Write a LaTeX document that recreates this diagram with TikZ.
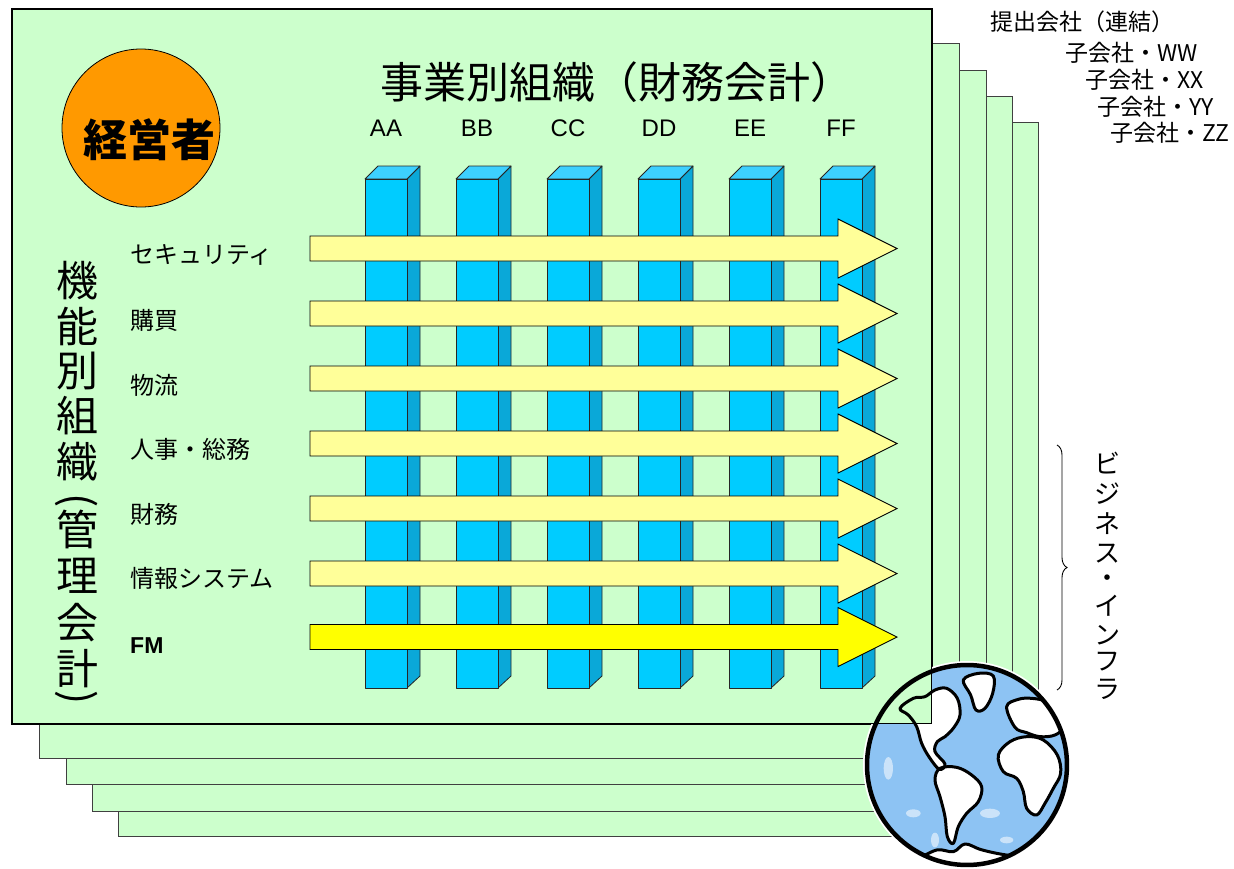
\documentclass[tikz,border=0pt]{standalone}
\usepackage{graphicx}
\usepackage{fontspec}
\setmainfont{Noto Sans CJK JP}
\newfontfamily\latinfont{Liberation Sans}
\usetikzlibrary{decorations.pathreplacing}

\definecolor{sheetgreen}{HTML}{CCFFCC}
\definecolor{colfront}{HTML}{00CCFF}
\definecolor{colside}{HTML}{0AA8D8}
\definecolor{coltop}{HTML}{3DD0FF}
\definecolor{paleyellow}{HTML}{FFFF99}
\definecolor{fmyellow}{HTML}{FFFF00}
\definecolor{headorange}{HTML}{FF9900}
\definecolor{oceanblue}{HTML}{8DC3F3}

\tikzset{
  sheet/.style={fill=sheetgreen,draw=black!75,line width=1pt},
  frontsheet/.style={fill=sheetgreen,draw=black,line width=1.2pt},
  facebox/.style={draw=black!85,line width=0.8pt,line join=round},
  flowarrow/.style={draw=black,line width=0.9pt,line join=miter},
  rowlabel/.style={anchor=west,inner sep=0pt,font=\fontsize{24}{28}\selectfont},
  collabel/.style={inner sep=0pt,font=\latinfont\fontsize{24}{28}\selectfont},
  sublabel/.style={anchor=west,inner sep=0pt,font=\fontsize{23}{26}\selectfont},
  vchar/.style={inner sep=0pt,font=\fontsize{42}{44}\selectfont},
  rchar/.style={inner sep=0pt,font=\fontsize{26}{28}\selectfont},
  coast/.style={line width=3pt,line join=round},
  % continents of the globe, in a local 3x grid
  northamerica/.pic={\path[pic actions] plot[smooth cycle,tension=0.6] coordinates
    {(150,205) (190,175) (225,170) (255,150) (290,145) (322,175) (330,225) (312,262)
     (285,290) (262,305) (255,335) (285,372) (268,388) (238,352) (215,310) (200,260) (175,225)};},
  greenlandpic/.pic={\path[pic actions] plot[smooth cycle,tension=0.6] coordinates
    {(340,120) (385,100) (430,108) (428,160) (405,205) (378,210) (362,165)};},
  eurasiapic/.pic={\path[pic actions] plot[smooth cycle,tension=0.6] coordinates
    {(470,200) (505,178) (545,175) (590,185) (625,215) (640,260) (615,285) (570,290) (530,278) (495,262)};},
  africapic/.pic={\path[pic actions] plot[smooth cycle,tension=0.6] coordinates
    {(445,345) (480,305) (530,290) (580,300) (622,345) (632,400) (610,445) (585,490)
     (560,525) (530,505) (520,455) (500,415) (460,395)};},
  southamericapic/.pic={\path[pic actions] plot[smooth cycle,tension=0.6] coordinates
    {(270,385) (320,382) (365,405) (395,440) (385,485) (350,520) (325,560) (310,610)
     (292,590) (285,530) (270,470) (255,420)};},
  antarcticapic/.pic={\path[pic actions] plot[smooth,tension=0.6] coordinates
    {(200,660) (260,630) (310,635) (345,612) (390,628) (440,640) (500,650)}
     -- (500,720) -- (200,720) -- cycle;},
}

\begin{document}
\begin{tikzpicture}[x=1pt,y=-1pt]
\useasboundingbox (0,0) rectangle (1234,868);

% stacked subsidiary sheets, back to front
\draw[sheet] (118,122) rectangle (1038,836);
\draw[sheet] (92,96) rectangle (1012,811);
\draw[sheet] (66,70) rectangle (986,784);
\draw[sheet] (39,43) rectangle (959,758);

% front sheet
\draw[frontsheet] (12,9) rectangle (932,724);

% manager
\node[circle,fill=headorange,draw=black,line width=0.8pt,minimum size=158pt,inner sep=0pt] (mgr) at (141,128) {};
\node[inner sep=0pt,font=\bfseries\fontsize{44}{48}\selectfont] (mgrtext) at (149,140) {経営者};

% business units title
\node[inner sep=0pt,font=\fontsize{43}{48}\selectfont] (bizhead) at (617,82) {事業別組織（財務会計）};

% business unit columns
\foreach \x/\lab [count=\i] in {365/AA,456/BB,547/CC,638/DD,729/EE,820/FF}{
  \draw[facebox,fill=colside] (\x+42,179) -- (\x+55,166) -- (\x+55,676) -- (\x+42,688) -- cycle;
  \draw[facebox,fill=coltop] (\x,179) -- (\x+13,166) -- (\x+55,166) -- (\x+42,179) -- cycle;
  \draw[facebox,fill=colfront] (\x,179) rectangle (\x+42,688);
  \node[collabel] (col\i) at (\x+21,128) {\lab};
}

% functional flows across the units
\foreach \yc/\fc [count=\i] in {248.5/paleyellow,313.5/paleyellow,378.5/paleyellow,443.5/paleyellow,508.5/paleyellow,573.5/paleyellow,637/fmyellow}{
  \draw[flowarrow,fill=\fc] (310,\yc-12.5) -- (838,\yc-12.5) -- (838,\yc-29.5) -- (897,\yc)
    -- (838,\yc+29.5) -- (838,\yc+12.5) -- (310,\yc+12.5) -- cycle;
}

% function names
\node[rowlabel] (f1) at (130,255) {セキュリティ};
\node[rowlabel] (f2) at (130,320) {購買};
\node[rowlabel] (f3) at (130,385) {物流};
\node[rowlabel] (f4) at (130,449) {人事・総務};
\node[rowlabel] (f5) at (130,514) {財務};
\node[rowlabel] (f6) at (130,578) {情報システム};
\node[rowlabel,font=\latinfont\bfseries\fontsize{23}{28}\selectfont] (f7) at (130,646) {FM};

% vertical heading on the left
\foreach \ch/\yy [count=\i] in {機/281,能/326,別/371,組/416,織/462,管/529,理/576,会/623,計/669}{
  \node[vchar] (v\i) at (77,\yy) {\ch};
}
\node[vchar] (vopen) at (77,501) {\rotatebox{-90}{(}};
\node[vchar] (vclose) at (77,698) {\rotatebox{-90}{)}};

% subsidiaries
\node[sublabel] (parent) at (990,22) {提出会社（連結）};
\node[sublabel] (subw) at (1065,53) {子会社・WW};
\node[sublabel] (subx) at (1085,80) {子会社・XX};
\node[sublabel] (suby) at (1097,107) {子会社・YY};
\node[sublabel] (subz) at (1110,133) {子会社・ZZ};

% business infrastructure brace
\coordinate (bracetop) at (1057,445);
\coordinate (bracebot) at (1057,690);
\draw[decorate,decoration={brace,amplitude=10pt},line width=0.9pt] (bracetop) -- (bracebot);
\foreach \ch/\yy [count=\i] in {ビ/463,ジ/494,ネ/524,ス/554,・/581,イ/606,ン/635,フ/662,ラ/689}{
  \node[rchar] (r\i) at (1107,\yy) {\ch};
}

% globe: sea and land, kept off the front sheet
\begin{scope}
  \clip (932,-10) -- (1240,-10) -- (1240,880) -- (-10,880) -- (-10,724) -- (932,724) -- cycle;
  \fill[white] (967,765) circle (104);
  \fill[oceanblue] (967,765) circle (100);
  \begin{scope}[shift={(850,640)},x=0.3333pt,y=-0.3333pt]
    \clip (351,375) circle (300);
    \fill[white,opacity=0.55] (115,385) ellipse (14 and 34);
    \fill[white,opacity=0.55] (190,520) ellipse (22 and 12);
    \fill[white,opacity=0.55] (420,520) ellipse (30 and 14);
    \fill[white,opacity=0.55] (470,600) ellipse (20 and 10);
    \fill[white,opacity=0.55] (255,600) ellipse (12 and 22);
    \pic[fill=white] {northamerica};
    \pic[fill=white] {greenlandpic};
    \pic[fill=white] {eurasiapic};
    \pic[fill=white] {africapic};
    \pic[fill=white] {southamericapic};
    \pic[fill=white] {antarcticapic};
  \end{scope}
\end{scope}

% globe: coastlines and rim
\begin{scope}[shift={(850,640)},x=0.3333pt,y=-0.3333pt]
  \begin{scope}
    \clip (351,375) circle (300);
    \pic[draw=black,coast] {northamerica};
    \pic[draw=black,coast] {greenlandpic};
    \pic[draw=black,coast] {eurasiapic};
    \pic[draw=black,coast] {africapic};
    \pic[draw=black,coast] {southamericapic};
    \pic[draw=black,coast] {antarcticapic};
  \end{scope}
  \draw[black,line width=4.5pt] (351,375) circle (300);
\end{scope}
\end{tikzpicture}
\end{document}
